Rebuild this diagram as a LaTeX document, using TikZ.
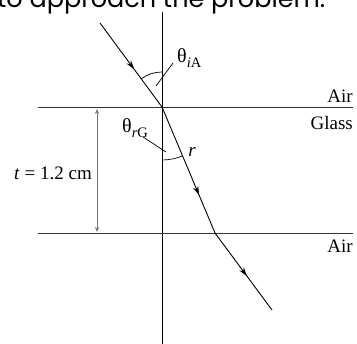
\documentclass[tikz,border=0pt]{standalone}
\usepackage{fontspec}
\setmainfont{Liberation Serif}
\newfontfamily\topfont{Poppins}
\usetikzlibrary{arrows.meta,decorations.markings}
\tikzset{
  ray/.style={line width=0.9pt, black},
  surf/.style={line width=0.9pt, black!80},
  midarrow/.style={postaction={decorate}, decoration={markings,
     mark=at position #1 with {\arrow{Stealth[length=9pt,width=5.5pt]}}}},
  lbl/.style={inner sep=0pt, font=\fontsize{19}{22}\selectfont},
  thlbl/.style={inner sep=0pt, font=\fontsize{20}{22}\selectfont},
  dim/.style={line width=0.7pt, black!55, {Stealth[length=5pt,width=4pt]}-{Stealth[length=5pt,width=4pt]}},
  thin/.style={line width=0.7pt, black}
}
\newcommand{\subsz}[1]{\raisebox{-0.25em}{\fontsize{14.5}{14.5}\selectfont #1}}
\begin{document}
\begin{tikzpicture}[x=1pt,y=1pt]
\useasboundingbox (0,0) rectangle (357,344);
\clip (0,0) rectangle (357,344);
% cropped top text
\node[anchor=base west, inner sep=0pt, font=\topfont\fontsize{25.5}{30}\selectfont] (toptext) at (-3,336) {to approach the problem.};
% coordinates
\coordinate (Ntop) at (162,332);
\coordinate (Nbot) at (162,-2);
\coordinate (L1) at (38,237);
\coordinate (R1) at (353,237);
\coordinate (L2) at (38,111);
\coordinate (R2) at (353,111);
\coordinate (O) at (162,237);
\coordinate (S) at (100,321);
\coordinate (E) at (215,111);
\coordinate (F) at (272,34);
\coordinate (D1) at (97,235);
\coordinate (D2) at (97,112);
% normal and surfaces
\draw[ray] (Ntop) -- (Nbot);
\draw[surf] (L1) -- (R1);
\draw[surf] (L2) -- (R2);
% rays
\draw[ray, midarrow=0.55] (S) -- (O);
\draw[ray, midarrow=0.70] (O) -- (E);
\draw[ray, midarrow=0.56] (E) -- (F);
% angle arcs
\draw[thin] ([shift={(90:35)}]O) arc[start angle=90, end angle=126.4, radius=35];
\draw[thin] ([shift={(270:53)}]O) arc[start angle=270, end angle=292.8, radius=53];
% leaders
\coordinate (lA1) at (156,258);
\coordinate (lA2) at (173,281);
\coordinate (lG1) at (143,207);
\coordinate (lG2) at (166,192);
\draw[thin] (lA1) -- (lA2);
\draw[thin] (lG1) -- (lG2);
% thickness
\draw[dim] (D1) -- (D2);
% labels
\node[thlbl, anchor=base west] (thiA) at (177,281) {θ\subsz{\textit{i}A}};
\node[thlbl, anchor=base west] (thrG) at (122,211) {θ\subsz{\textit{r}G}};
\node[lbl] (rl) at (192,192) {\textit{r}};
\node[lbl, anchor=base east] (air1) at (353,241) {Air};
\node[lbl, anchor=base east] (glass) at (353,214) {Glass};
\node[lbl, anchor=base east] (air2) at (353,91) {Air};
\node[lbl, anchor=base east] (tl) at (92,164) {\textit{t} = 1.2 cm};
\end{tikzpicture}
\end{document}
